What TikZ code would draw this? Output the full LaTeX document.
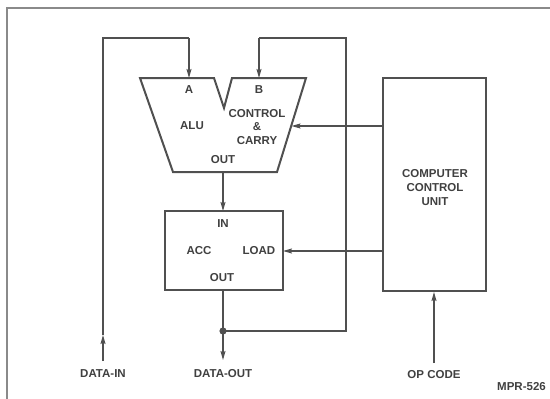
\documentclass[tikz,border=0pt]{standalone}
\usepackage{fontspec}
\setmainfont{Liberation Sans}
\usetikzlibrary{arrows.meta}
\definecolor{ink}{HTML}{505050}
\definecolor{txt}{HTML}{404040}
\definecolor{frm}{HTML}{8A8A8A}
\tikzset{
  box/.style={draw=ink, line width=2pt},
  wire/.style={draw=ink, line width=1.1pt},
  arr/.style={wire, -{Stealth[length=9pt,width=5pt,inset=1.5pt]}},
  lbl/.style={text=txt, font=\bfseries\fontsize{11.5}{14}\selectfont, inner sep=0pt, align=center},
}
\begin{document}
\begin{tikzpicture}[x=1pt,y=-1pt]
\useasboundingbox (0,0) rectangle (550,399);
\fill[white] (0,0) rectangle (550,399);
% frame
\draw[frm, line width=1.4pt] (7,399) -- (7,8) -- (550,8);

% ALU shape
\coordinate (tl) at (140,78);
\coordinate (n1) at (214,78);
\coordinate (nb) at (224,108);
\coordinate (n2) at (232,78);
\coordinate (tr) at (306,78);
\coordinate (br) at (277,172);
\coordinate (bl) at (173,172);
\draw[box, line join=miter] (tl) -- (n1) -- (nb) -- (n2) -- (tr) -- (br) -- (bl) -- cycle;
\coordinate (aluA) at (189,78);
\coordinate (aluB) at (259,78);
\coordinate (aluCtl) at (291.5,126);
\coordinate (aluOut) at (223,172);
\node[lbl] (tA) at (189,90) {A};
\node[lbl] (tB) at (259,90) {B};
\node[lbl] (tALU) at (192,126) {ALU};
\node[lbl] (tCC) at (257,127) {CONTROL\\[-0.5pt]\&\\[-0.5pt]CARRY};
\node[lbl] (tOut1) at (223,160) {OUT};

% ACC box
\node[box, minimum width=118pt, minimum height=79pt, inner sep=0pt] (acc) at (224,250.5) {};
\node[lbl] (tIn) at (223,224) {IN};
\node[lbl] (tAcc) at (199,251) {ACC};
\node[lbl] (tLoad) at (259,251) {LOAD};
\node[lbl] (tOut2) at (222,278) {OUT};

% CCU
\node[box, minimum width=103pt, minimum height=213pt, inner sep=0pt] (ccu) at (434.5,184.5) {};
\node[lbl] (tCCU) at (435,188) {COMPUTER\\[0pt]CONTROL\\[0pt]UNIT};

% connectors
\coordinate (accIn) at (223,211);
\coordinate (accOut) at (223,290);
\coordinate (accLoad) at (283,251);
\coordinate (junc) at (223,331);
\coordinate (dout) at (223,360);
\coordinate (din) at (103,361);
\coordinate (dinMid) at (103,335);
\coordinate (dinTop) at (103,38);
\coordinate (aTop) at (189,38);
\coordinate (bRight) at (346,331);
\coordinate (bTopR) at (346,38);
\coordinate (bTop) at (259,38);
\coordinate (op) at (434,363);

\draw[arr] (aluOut) -- (accIn);
\draw[wire] (accOut) -- (junc);
\draw[arr] (junc) -- (dout);
\draw[wire] (junc) -- (bRight) -- (bTopR) -- (bTop);
\draw[arr] (bTop) -- (aluB);
\draw[arr] (din) -- (dinMid);
\draw[wire] (dinMid) -- (dinTop) -- (aTop);
\draw[arr] (aTop) -- (aluA);
\draw[arr] (ccu.west |- aluCtl) -- (aluCtl);
\draw[arr] (ccu.west |- accLoad) -- (accLoad);
\draw[arr] (op) -- (op |- ccu.south);
\fill[ink] (junc) circle (3.6pt);

\node[lbl] (ldin) at (103,374) {DATA-IN};
\node[lbl] (ldout) at (223,374) {DATA-OUT};
\node[lbl] (lop) at (434,375) {OP CODE};
\node[lbl, anchor=east] (mpr) at (546,387) {MPR-526};
\end{tikzpicture}
\end{document}
